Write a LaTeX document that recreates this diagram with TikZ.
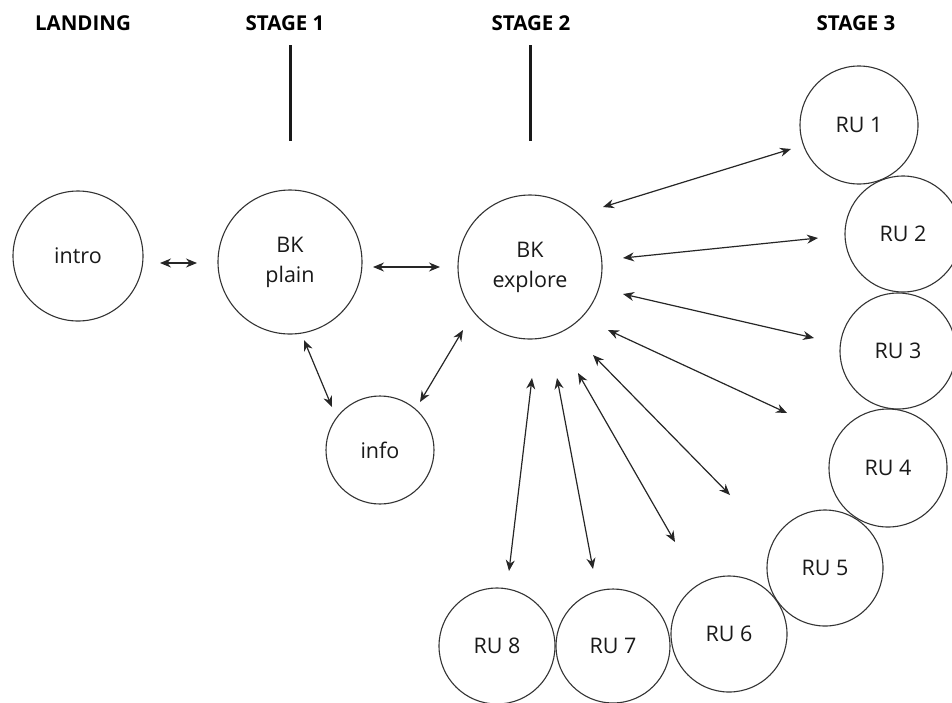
\documentclass[tikz,border=0pt]{standalone}
\usepackage{fontspec}
\setmainfont{Open Sans}
\usetikzlibrary{arrows.meta, calc}

\tikzset{
  page/.style={circle, draw=black!80, line width=1.1pt, text=black!90,
    font=\fontsize{21.5}{30}\selectfont, align=center, inner sep=0pt},
  link/.style={{Stealth[length=11pt,width=9pt]}-{Stealth[length=11pt,width=9pt]},
    line width=1.2pt, draw=black!85},
  stagelabel/.style={font=\bfseries\fontsize{20.5}{22}\selectfont, text=black},
  stagebar/.style={line width=3pt, draw=black!90}
}

\begin{document}
\begin{tikzpicture}[x=1pt, y=-1pt]
        \useasboundingbox (0,0) rectangle (952,702);
        \clip (0,0) rectangle (952,702);

        % stage headings
        \node[stagelabel] (landing) at (83,23) {LANDING};
        \node[stagelabel] (stage1) at (285,23) {STAGE 1};
        \node[stagelabel] (stage2) at (531,23) {STAGE 2};
        \node[stagelabel] (stage3) at (856,23) {STAGE 3};
        \draw [stagebar] (290,45) -- (290,141);
        \draw [stagebar] (530,45) -- (530,141);

        % pages
        \node[page, minimum size=130pt] (intro) at (78,256) {intro};
        \node[page, minimum size=144pt] (plain) at (290,262) {BK\\plain};
        \node[page, minimum size=144pt] (explore) at (530,267) {BK\\explore};
        \node[page, minimum size=108pt] (info) at (380,450) {info};

        \node[page, minimum size=118pt] (ru1) at (859,125) {RU 1};
        \node[page, minimum size=116pt] (ru2) at (903,234) {RU 2};
        \node[page, minimum size=116pt] (ru3) at (898,351) {RU 3};
        \node[page, minimum size=118pt] (ru4) at (888,468) {RU 4};
        \node[page, minimum size=116pt] (ru5) at (825,568) {RU 5};
        \node[page, minimum size=116pt] (ru6) at (729,634) {RU 6};
        \node[page, minimum size=114pt] (ru7) at (613,646) {RU 7};
        \node[page, minimum size=116pt] (ru8) at (497,646) {RU 8};

        % links
        \draw [link] ($(intro)+(82,7)$) -- ($(plain)+(-93,1)$);
        \draw [link] ($(plain)+(83,5)$) -- ($(explore)+(-90,0)$);
        \draw [link] ($(plain)+(14,78)$) -- ($(info)+(-48,-43)$);
        \draw [link] ($(info)+(40,-48)$) -- ($(explore)+(-67,63)$);

        \draw [link] ($(explore)+(73,-60)$) -- ($(ru1)+(-68,24)$);
        \draw [link] ($(explore)+(93,-9)$) -- ($(ru2)+(-85,4)$);
        \draw [link] ($(explore)+(93,27)$) -- ($(ru3)+(-84,-13)$);
        \draw [link] ($(explore)+(78,63)$) -- ($(ru4)+(-101,-55)$);
        \draw [link] ($(explore)+(63,88)$) -- ($(ru5)+(-95,-73)$);
        \draw [link] ($(explore)+(48,106)$) -- ($(ru6)+(-54,-92)$);
        \draw [link] ($(explore)+(27,111)$) -- ($(ru7)+(-20,-77)$);
        \draw [link] ($(explore)+(2,111)$) -- ($(ru8)+(12,-75)$);
\end{tikzpicture}
\end{document}
